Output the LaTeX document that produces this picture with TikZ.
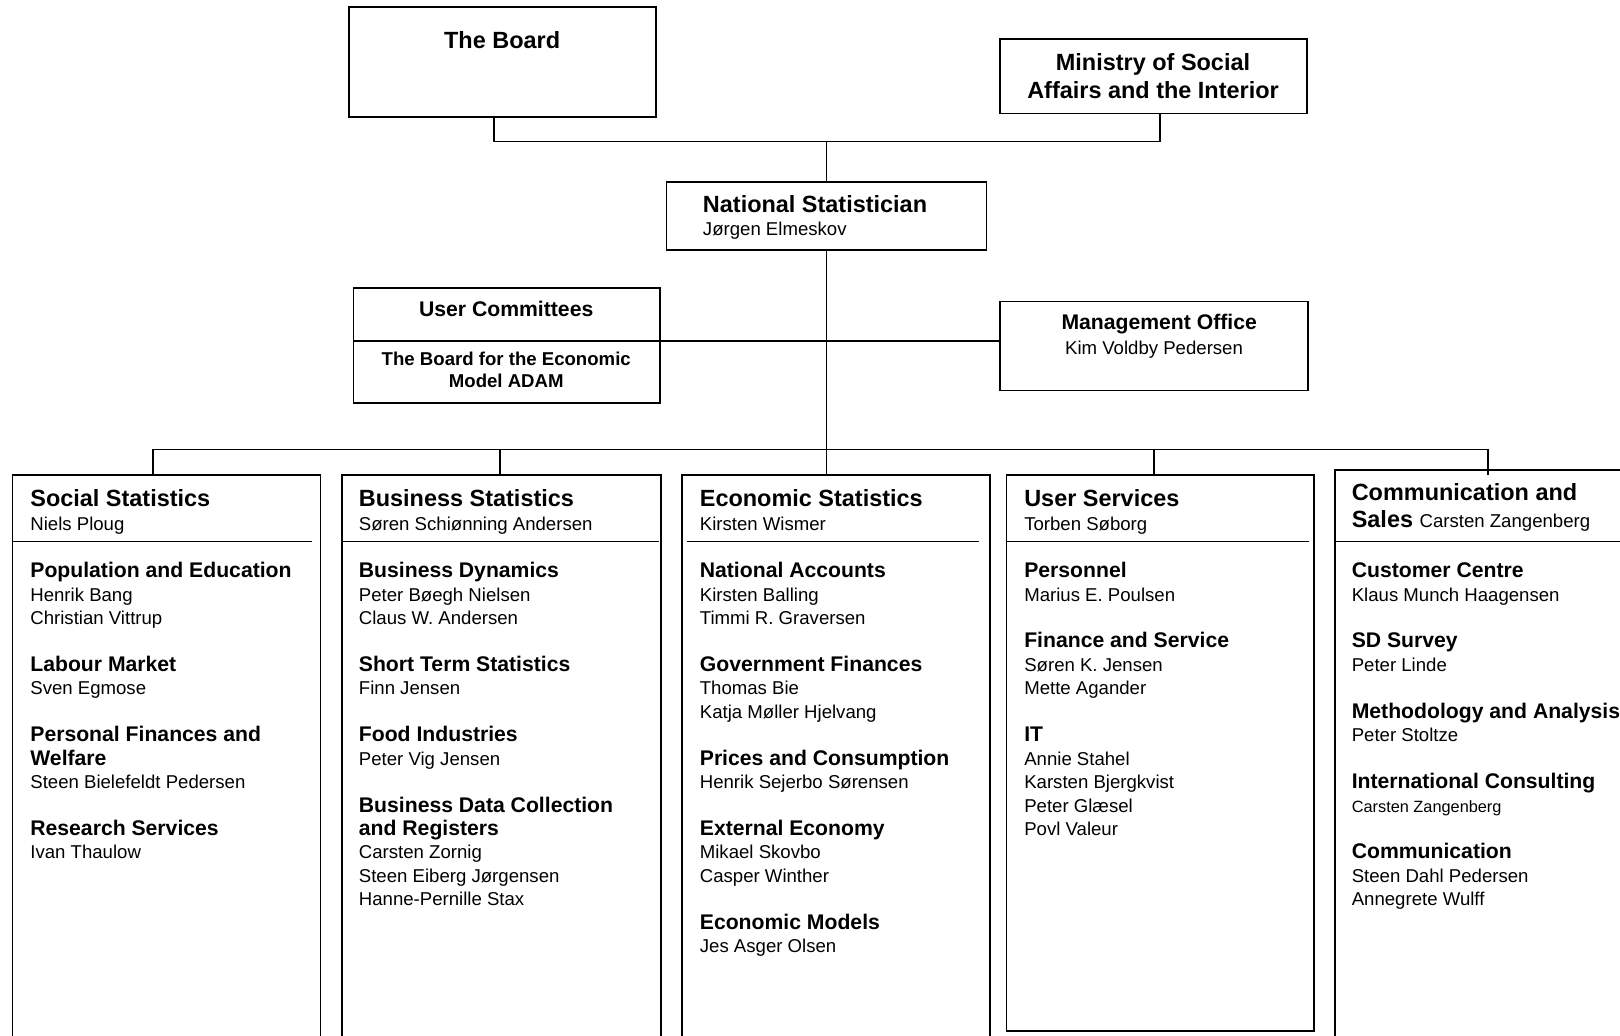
\documentclass[tikz,border=0pt]{standalone}
\usepackage{fontspec}
\setmainfont{Liberation Sans}
\usepackage{tikz}

\tikzset{
  box/.style={draw, rectangle, line width=0.75pt, inner sep=0pt, outer sep=0pt},
  link/.style={line width=0.75pt},
  txt/.style={inner sep=0pt, anchor=base west},
  ctxt/.style={inner sep=0pt, anchor=base},
}
\newcommand{\secthd}[1]{{\fontsize{10.25}{11.35}\selectfont\bfseries #1}}
\newcommand{\smallnm}[1]{{\fontsize{7.9}{11.35}\selectfont #1}}
\newcommand{\colbody}[1]{\parbox[t]{150pt}{\fontsize{9}{11.35}\selectfont\raggedright #1}}
\newcommand{\colhd}[2]{\parbox[t]{150pt}{\fontsize{9}{11.5}\selectfont\raggedright{\fontsize{11.35}{11.5}\selectfont\bfseries #1}\\#2}}

\begin{document}
\begin{tikzpicture}[x=0.5pt, y=-0.5pt]
    \useasboundingbox (0, 0) rectangle (1568, 1002);
    \clip (0, 0) rectangle (1568, 1002);

    % top level
    \node[box, minimum width = 148.5pt, minimum height = 53pt] (board) at (486.5, 60) {};
    \node[box, minimum width = 148.5pt, minimum height = 36pt] (ministry) at (1116.5, 74) {};
    \node[box, minimum width = 155pt, minimum height = 33pt] (natstat) at (800, 209) {};
    \node[ctxt, font = \fontsize{11.35}{13.5}\selectfont\bfseries] (board-t) at (486, 47) {The Board};
    \node[ctxt] (ministry-t) at (1116, 68) {\parbox[t]{150pt}{\centering\fontsize{11.35}{13.5}\selectfont\bfseries Ministry of Social\\Affairs and the Interior}};
    \node[txt] (natstat-t) at (680, 206) {\parbox[t]{150pt}{\fontsize{9}{11}\selectfont{\fontsize{11.35}{11}\selectfont\bfseries National Statistician}\\J{\o}rgen Elmeskov}};

    \coordinate (topbus) at (800, 137);
    \draw[link] ([xshift = -4.25pt]board.south) -- ([xshift = -4.25pt]board.south |- topbus) -- ([xshift = 3.25pt]ministry.south |- topbus) -- ([xshift = 3.25pt]ministry.south);
    \draw[link] (topbus) -- (natstat.north);

    % staff level
    \node[box, minimum width = 148.5pt, minimum height = 55.5pt] (usercom) at (490.5, 334.5) {};
    \node[box, minimum width = 149pt, minimum height = 43pt] (mgmt) at (1117, 335) {};
    \coordinate (ucdiv) at (342, 330);
    \draw[link] (ucdiv) -- (usercom.east |- ucdiv);
    \node[ctxt, font = \fontsize{10.25}{12}\selectfont\bfseries] (usercom-t) at (490, 306) {User Committees};
    \node[ctxt] (adam-t) at (490, 354) {\parbox[t]{150pt}{\centering\fontsize{9}{10.5}\selectfont\bfseries The Board for the Economic\\Model ADAM}};
    \node[ctxt, font = \fontsize{10.25}{12}\selectfont\bfseries] (mgmt-t) at (1122, 319) {Management Office};
    \node[ctxt, font = \fontsize{9}{11}\selectfont] (mgmt-n) at (1117, 343) {Kim Voldby Pedersen};

    \coordinate (bus) at (800, 435);
    \draw[link] (natstat.south) -- (bus);
    \draw[link] (usercom.east |- ucdiv) -- (mgmt.west |- ucdiv);

    % divisions
    \node[box, minimum width = 149pt, minimum height = 275pt] (social) at (161, 735) {};
    \node[box, minimum width = 154.5pt, minimum height = 275pt] (business) at (485.5, 735) {};
    \node[box, minimum width = 149pt, minimum height = 275pt] (economic) at (809, 735) {};
    \node[box, minimum width = 149pt, minimum height = 269pt] (usersvc) at (1123, 729) {};
    \node[box, minimum width = 144pt, minimum height = 277.5pt] (commsales) at (1436, 732.5) {};

    \coordinate (d1) at (148, 435);
    \coordinate (d2) at (484, 435);
    \coordinate (d3) at (800, 435);
    \coordinate (d4) at (1117, 435);
    \coordinate (d5) at (1440, 435);
    \draw[link] (d1) -- (d5);
    \foreach \d/\b in {d1/social, d2/business, d3/economic, d4/usersvc}
        \draw[link] (\d) -- (\d |- \b.north);
    \draw[link] (d5) -- (d5 |- social.north);

    \foreach \a/\b in {12/302, 331/638, 665/948, 975/1267, 1292/1580}
        \draw[link] (\a, 524) -- (\b, 524);

    % headings
    \node[txt] (social-h) at (29, 490) {\colhd{Social Statistics}{Niels Ploug}};
    \node[txt] (business-h) at (347, 490) {\colhd{Business Statistics}{S{\o}ren Schi{\o}nning Andersen}};
    \node[txt] (economic-h) at (677, 490) {\colhd{Economic Statistics}{Kirsten Wismer}};
    \node[txt] (usersvc-h) at (991, 490) {\colhd{User Services}{Torben S{\o}borg}};
    \node[txt] (commsales-h) at (1308, 484) {\parbox[t]{150pt}{\fontsize{11.35}{13.5}\selectfont\bfseries Communication and\\Sales {\mdseries\fontsize{9}{13.5}\selectfont Carsten Zangenberg}}};

    % units
    \node[txt] (social-b) at (29, 559) {\colbody{
        \secthd{Population and Education}\\ Henrik Bang\\ Christian Vittrup\\[11.35pt]
        \secthd{Labour Market}\\ Sven Egmose\\[11.35pt]
        \secthd{Personal Finances and}\\ \secthd{Welfare}\\ Steen Bielefeldt Pedersen\\[11.35pt]
        \secthd{Research Services}\\ Ivan Thaulow}};
    \node[txt] (business-b) at (347, 559) {\colbody{
        \secthd{Business Dynamics}\\ Peter B{\o}egh Nielsen\\ Claus W. Andersen\\[11.35pt]
        \secthd{Short Term Statistics}\\ Finn Jensen\\[11.35pt]
        \secthd{Food Industries}\\ Peter Vig Jensen\\[11.35pt]
        \secthd{Business Data Collection}\\ \secthd{and Registers}\\ Carsten Zornig\\ Steen Eiberg J{\o}rgensen\\ Hanne-Pernille Stax}};
    \node[txt] (economic-b) at (677, 559) {\colbody{
        \secthd{National Accounts}\\ Kirsten Balling\\ Timmi R. Graversen\\[11.35pt]
        \secthd{Government Finances}\\ Thomas Bie\\ Katja M{\o}ller Hjelvang\\[11.35pt]
        \secthd{Prices and Consumption}\\ Henrik Sejerbo S{\o}rensen\\[11.35pt]
        \secthd{External Economy}\\ Mikael Skovbo\\ Casper Winther\\[11.35pt]
        \secthd{Economic Models}\\ Jes Asger Olsen}};
    \node[txt] (usersvc-b) at (991, 559) {\colbody{
        \secthd{Personnel}\\ Marius E. Poulsen\\[11.35pt]
        \secthd{Finance and Service}\\ S{\o}ren K. Jensen\\ Mette Agander\\[11.35pt]
        \secthd{IT}\\ Annie Stahel\\ Karsten Bjergkvist\\ Peter Gl{\ae}sel\\ Povl Valeur}};
    \node[txt] (commsales-b) at (1308, 559) {\colbody{
        \secthd{Customer Centre}\\ Klaus Munch Haagensen\\[11.35pt]
        \secthd{SD Survey}\\ Peter Linde\\[11.35pt]
        \secthd{Methodology and Analysis}\\ Peter Stoltze\\[11.35pt]
        \secthd{International Consulting}\\ \smallnm{Carsten Zangenberg}\\[11.35pt]
        \secthd{Communication}\\ Steen Dahl Pedersen\\ Annegrete Wulff}};
\end{tikzpicture}
\end{document}
